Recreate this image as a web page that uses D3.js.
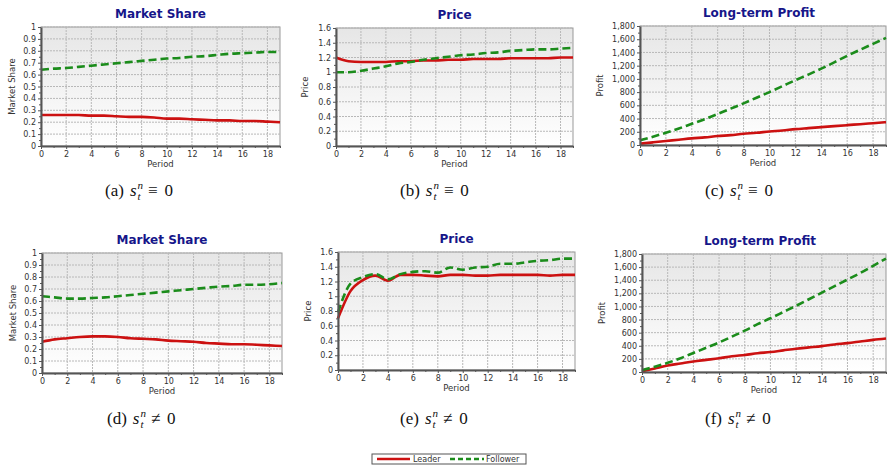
<!DOCTYPE html>
<html>
<head>
<meta charset="utf-8">
<script src="https://cdn.jsdelivr.net/npm/d3@7"></script>
<style>
  body { margin: 0; background: #fff; }
  .tick text { font-family: "DejaVu Sans", Verdana, sans-serif; font-size: 8px; fill: #333; }
  .title { font-family: "DejaVu Sans", Verdana, sans-serif; font-weight: bold; font-size: 12px; fill: #16168a; }
  .axisLabel { font-family: "DejaVu Sans", Verdana, sans-serif; font-size: 8.5px; fill: #333; }
  .caption { font-family: "Liberation Serif", "DejaVu Serif", serif; font-size: 17px; fill: #111; }
  .capSmall { font-family: "Liberation Serif", "DejaVu Serif", serif; font-size: 11px; font-style: italic; fill: #111; }
  .legendLabel { font-family: "DejaVu Sans", Verdana, sans-serif; font-size: 8px; fill: #333; }
</style>
</head>
<body>
<div id="chart"></div>
<script>
// periods on the x axis
const periods = d3.range(0, 20);

// (a) market share, s = 0
const shareLeaderA = [0.26, 0.26, 0.26, 0.26, 0.255, 0.255, 0.25, 0.245, 0.245, 0.24, 0.23, 0.23, 0.225, 0.22, 0.215, 0.215, 0.21, 0.21, 0.205, 0.20];
const shareFollowerA = [0.64, 0.65, 0.655, 0.665, 0.675, 0.685, 0.695, 0.705, 0.715, 0.725, 0.735, 0.74, 0.75, 0.755, 0.765, 0.775, 0.78, 0.785, 0.79, 0.79];
// (b) price, s = 0
const priceLeaderB = [1.2, 1.15, 1.14, 1.14, 1.14, 1.15, 1.15, 1.16, 1.16, 1.17, 1.17, 1.18, 1.18, 1.18, 1.19, 1.19, 1.19, 1.19, 1.2, 1.2];
const priceFollowerB = [1.0, 1.0, 1.02, 1.05, 1.08, 1.12, 1.14, 1.17, 1.19, 1.21, 1.23, 1.24, 1.26, 1.27, 1.29, 1.30, 1.31, 1.31, 1.32, 1.33];
// (c) long-term profit, s = 0
const profitLeaderC = [20, 40, 60, 80, 100, 115, 135, 150, 170, 185, 205, 220, 240, 255, 270, 285, 300, 315, 330, 345];
const profitFollowerC = [70, 125, 185, 250, 320, 390, 470, 550, 630, 715, 800, 890, 980, 1065, 1155, 1250, 1350, 1440, 1530, 1620];
// (d) market share, s != 0
const shareLeaderD = [0.26, 0.28, 0.29, 0.30, 0.305, 0.305, 0.30, 0.29, 0.285, 0.28, 0.27, 0.265, 0.26, 0.25, 0.245, 0.24, 0.24, 0.235, 0.23, 0.225];
const shareFollowerD = [0.64, 0.63, 0.62, 0.62, 0.625, 0.63, 0.64, 0.65, 0.66, 0.67, 0.68, 0.69, 0.70, 0.71, 0.72, 0.725, 0.735, 0.735, 0.74, 0.75];
// (e) price, s != 0
const priceLeaderE = [0.7, 1.07, 1.22, 1.28, 1.21, 1.29, 1.29, 1.28, 1.27, 1.29, 1.29, 1.28, 1.28, 1.29, 1.29, 1.29, 1.29, 1.28, 1.29, 1.29];
const priceFollowerE = [0.78, 1.17, 1.26, 1.30, 1.23, 1.30, 1.33, 1.34, 1.32, 1.39, 1.36, 1.39, 1.40, 1.44, 1.44, 1.46, 1.48, 1.49, 1.51, 1.51];
// (f) long-term profit, s != 0
const profitLeaderF = [10, 55, 100, 130, 160, 185, 210, 240, 260, 285, 305, 330, 355, 375, 395, 420, 440, 465, 490, 510];
const profitFollowerF = [30, 80, 140, 210, 290, 370, 450, 540, 630, 730, 820, 915, 1010, 1110, 1210, 1310, 1410, 1510, 1620, 1730];

// tick values
const xTicks = d3.range(0, 19, 2);
const shareTicks = d3.range(0, 11).map(d => d / 10);
const priceTicks = d3.range(0, 9).map(d => d / 5);
const profitTicks = d3.range(0, 2000, 200);

const seriesNames = ["Leader", "Follower"];
const captionLetters = ["a", "b", "c", "d", "e", "f"];

const width = 888, height = 468;

const svg = d3.select("#chart")
    .append("svg")
    .attr("width", width)
    .attr("height", height);

// background gradient of the plot areas
const grad = svg.append("defs").append("linearGradient")
    .attr("id", "bg").attr("x1", 0).attr("y1", 0).attr("x2", 0).attr("y2", 1);
grad.append("stop").attr("offset", "0%").attr("stop-color", "#e6e6e6");
grad.append("stop").attr("offset", "100%").attr("stop-color", "#ffffff");

const colorScale = d3.scaleOrdinal().domain(seriesNames).range(["#cc1111", "#1b8c1b"]);
const dashScale = d3.scaleOrdinal().domain(seriesNames).range(["none", "8,4"]);

const fmtShare = d => d3.format("~g")(+d.toFixed(1));
const fmtPrice = d => d3.format("~g")(+d.toFixed(1));
const fmtProfit = d3.format(",");

// panel settings: plot box, y scale info, labels
const panels = [
    { l: 41, r: 280, t: 27, b: 146, title: "Market Share", ylab: "Market Share", ylx: 12, max: 1, ticks: shareTicks, minor: 0.05, fmt: fmtShare, data: [shareLeaderA, shareFollowerA], cap: [105, 196], eq: "\u2261" },
    { l: 336, r: 573, t: 28, b: 146, title: "Price", ylab: "Price", ylx: 305, max: 1.6, ticks: priceTicks, minor: 0.1, fmt: fmtPrice, data: [priceLeaderB, priceFollowerB], cap: [400, 196], eq: "\u2261" },
    { l: 640, r: 886, t: 26, b: 145, title: "Long-term Profit", ylab: "Profit", ylx: 600, max: 1800, ticks: profitTicks, minor: 100, fmt: fmtProfit, data: [profitLeaderC, profitFollowerC], cap: [705, 196], eq: "\u2261" },
    { l: 42, r: 282, t: 253, b: 373, title: "Market Share", ylab: "Market Share", ylx: 13, max: 1, ticks: shareTicks, minor: 0.05, fmt: fmtShare, data: [shareLeaderD, shareFollowerD], cap: [107, 424], eq: "\u2260" },
    { l: 338, r: 575, t: 252, b: 370, title: "Price", ylab: "Price", ylx: 308, max: 1.6, ticks: priceTicks, minor: 0.1, fmt: fmtPrice, data: [priceLeaderE, priceFollowerE], cap: [400, 424], eq: "\u2260" },
    { l: 642, r: 886, t: 254, b: 372, title: "Long-term Profit", ylab: "Profit", ylx: 602, max: 1800, ticks: profitTicks, minor: 100, fmt: fmtProfit, data: [profitLeaderF, profitFollowerF], cap: [705, 424], eq: "\u2260" }
];

panels.forEach((p, idx) => {
    const g = svg.append("g");

    const xScale = d3.scaleLinear().domain([0, 19]).range([p.l, p.r]);
    const yScale = d3.scaleLinear().domain([0, p.max]).range([p.b, p.t]);

    // plot background
    g.append("rect")
        .attr("x", p.l).attr("y", p.t)
        .attr("width", p.r - p.l).attr("height", p.b - p.t)
        .attr("fill", "url(#bg)")
        .attr("stroke", "#999").attr("stroke-width", 1);

    // dotted grid
    g.selectAll(".vgrid").data(xTicks.filter(d => d > 0))
        .join("line")
        .attr("x1", d => xScale(d)).attr("x2", d => xScale(d))
        .attr("y1", p.t).attr("y2", p.b)
        .attr("stroke", "#b8b8b8").attr("stroke-dasharray", "2,1");
    g.selectAll(".hgrid").data(p.ticks.filter(d => d > 0))
        .join("line")
        .attr("x1", p.l).attr("x2", p.r)
        .attr("y1", d => yScale(d)).attr("y2", d => yScale(d))
        .attr("stroke", "#b8b8b8").attr("stroke-dasharray", "2,1");

    // lines
    const line = d3.line()
        .x((d, i) => xScale(periods[i]))
        .y(d => yScale(d))
        .curve(d3.curveMonotoneX);

    seriesNames.forEach((name, k) => {
        g.append("path")
            .datum(p.data[k])
            .attr("fill", "none")
            .attr("stroke", colorScale(name))
            .attr("stroke-width", 2.6)
            .attr("stroke-dasharray", dashScale(name))
            .attr("d", line);
    });

    // minor ticks
    const xMinor = d3.range(1, 20, 2);
    g.append("g")
        .attr("transform", `translate(0,${p.b})`)
        .call(d3.axisBottom(xScale).tickValues(xMinor).tickSize(2).tickFormat(""))
        .call(a => a.select(".domain").remove())
        .selectAll("line").attr("stroke", "#555");
    const yMinor = d3.range(p.minor, p.max, p.minor * 2);
    g.append("g")
        .attr("transform", `translate(${p.l},0)`)
        .call(d3.axisLeft(yScale).tickValues(yMinor).tickSize(2).tickFormat(""))
        .call(a => a.select(".domain").remove())
        .selectAll("line").attr("stroke", "#555");

    // main axes
    const xAxis = g.append("g")
        .attr("transform", `translate(0,${p.b})`)
        .call(d3.axisBottom(xScale).tickValues(xTicks).tickSize(3).tickPadding(2).tickSizeOuter(0));
    xAxis.select(".domain").attr("stroke", "#555").attr("stroke-width", 2);
    xAxis.selectAll(".tick line").attr("stroke", "#555");

    const yAxis = g.append("g")
        .attr("transform", `translate(${p.l},0)`)
        .call(d3.axisLeft(yScale).tickValues(p.ticks).tickSize(3).tickPadding(2).tickSizeOuter(0).tickFormat(p.fmt));
    yAxis.select(".domain").attr("stroke", "#555").attr("stroke-width", 2);
    yAxis.selectAll(".tick line").attr("stroke", "#555");

    // title
    g.append("text")
        .attr("class", "title")
        .attr("x", (p.l + p.r) / 2 + (idx % 3 === 2 ? -4 : 0))
        .attr("y", p.t - 9)
        .attr("text-anchor", "middle")
        .text(p.title);

    // axis labels
    g.append("text")
        .attr("class", "axisLabel")
        .attr("transform", `translate(${p.ylx},${(p.t + p.b) / 2}) rotate(-90)`)
        .attr("text-anchor", "middle")
        .attr("dy", "0.35em")
        .text(p.ylab);

    g.append("text")
        .attr("class", "axisLabel")
        .attr("x", (p.l + p.r) / 2)
        .attr("y", p.b + 21)
        .attr("text-anchor", "middle")
        .text("Period");

    // caption like (a) s_t^n ≡ 0, pieces placed one after another
    let cx = p.cap[0];
    const cy = p.cap[1];
    const lead = g.append("text").attr("class", "caption").attr("x", cx).attr("y", cy);
    lead.append("tspan").text(`(${captionLetters[idx]})`);
    lead.append("tspan").attr("dx", 6).attr("font-style", "italic").text("s");
    cx += lead.node().getComputedTextLength() + 6 + 1;
    const sup = g.append("text").attr("class", "capSmall").attr("x", cx).attr("y", cy - 7).text("n");
    g.append("text").attr("class", "capSmall").attr("x", cx).attr("y", cy + 4).text("t");
    cx += sup.node().getComputedTextLength() + 5;
    g.append("text").attr("class", "caption").attr("x", cx).attr("y", cy)
        .text(`${p.eq}\u2009\u20090`);
});

// legend
const legendG = svg.append("g");
legendG.append("rect")
    .attr("x", 372).attr("y", 454)
    .attr("width", 154).attr("height", 10)
    .attr("fill", "#fff").attr("stroke", "#555");

const legendItems = [
    { name: "Leader", x1: 377, x2: 410, tx: 413 },
    { name: "Follower", x1: 450, x2: 484, tx: 486 }
];
legendG.selectAll(".legLine").data(legendItems)
    .join("line")
    .attr("x1", d => d.x1).attr("x2", d => d.x2)
    .attr("y1", 459).attr("y2", 459)
    .attr("stroke", d => colorScale(d.name))
    .attr("stroke-width", 2.4)
    .attr("stroke-dasharray", d => dashScale(d.name) === "none" ? null : "5,3");
legendG.selectAll(".legendLabel").data(legendItems)
    .join("text")
    .attr("class", "legendLabel")
    .attr("x", d => d.tx).attr("y", 462)
    .text(d => d.name);
</script>
</body>
</html>
